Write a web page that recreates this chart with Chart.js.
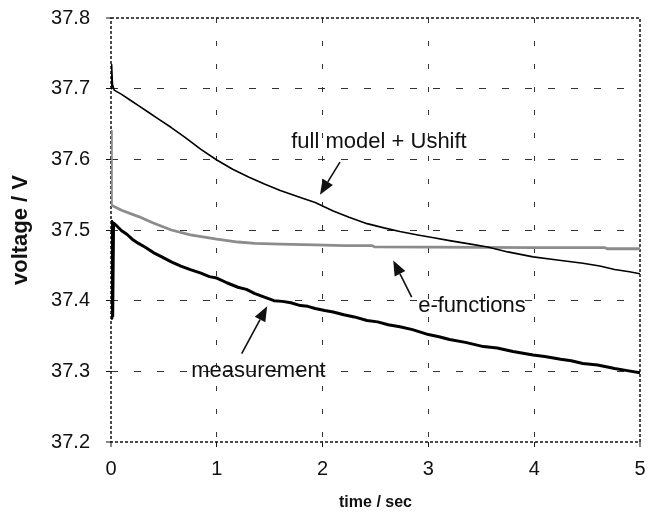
<!DOCTYPE html>
<html>
<head>
<meta charset="utf-8">
<script src="https://cdn.jsdelivr.net/npm/chart.js@4/dist/chart.umd.min.js"></script>
<style>
  html, body { margin: 0; padding: 0; background: #fff; }
  #wrap { width: 654px; height: 515px; }
</style>
</head>
<body>
<div id="wrap"><canvas id="chart" width="654" height="515"></canvas></div>
<script>
// Axis ticks
const timeTicks = [0, 1, 2, 3, 4, 5];
const voltTicks = [37.2, 37.3, 37.4, 37.5, 37.6, 37.7, 37.8];

// Measured terminal voltage (s, V)
const measT = [0, 0.008, 0.016, 0.024, 0.03, 0.06, 0.1, 0.15, 0.2, 0.26,
  0.32, 0.4, 0.48, 0.57, 0.66, 0.75, 0.85, 0.93, 1.0, 1.1,
  1.2, 1.28, 1.36, 1.45, 1.54, 1.62, 1.7, 1.79, 1.86, 1.93,
  2.02, 2.1, 2.2, 2.3, 2.42, 2.52, 2.62, 2.73, 2.85, 3.0,
  3.1, 3.2, 3.35, 3.52, 3.65, 3.8, 3.99, 4.1, 4.25, 4.35,
  4.46, 4.6, 4.76, 4.88, 5.0];
const measV = [37.375, 37.512, 37.378, 37.51, 37.509, 37.505, 37.499, 37.494, 37.487, 37.481,
  37.476, 37.468, 37.462, 37.455, 37.449, 37.444, 37.439, 37.434, 37.432, 37.425,
  37.419, 37.416, 37.410, 37.405, 37.400, 37.399, 37.397, 37.393, 37.392, 37.389,
  37.386, 37.384, 37.380, 37.377, 37.372, 37.370, 37.366, 37.363, 37.359, 37.352,
  37.349, 37.345, 37.341, 37.335, 37.333, 37.328, 37.323, 37.321, 37.317, 37.315,
  37.311, 37.309, 37.304, 37.301, 37.298];

// Full model with voltage shift (s, V)
const fullT = [0, 0.006, 0.014, 0.03, 0.1, 0.18, 0.26, 0.35, 0.45, 0.57,
  0.7, 0.85, 1.0, 1.15, 1.3, 1.45, 1.6, 1.79, 1.93, 2.1,
  2.25, 2.42, 2.58, 2.73, 2.9, 3.05, 3.2, 3.4, 3.56, 3.75,
  3.99, 4.2, 4.46, 4.62, 4.76, 4.9, 5.0];
const fullV = [37.700, 37.734, 37.706, 37.698, 37.692, 37.684, 37.676, 37.667, 37.657, 37.645,
  37.631, 37.614, 37.599, 37.586, 37.575, 37.565, 37.556, 37.546, 37.539, 37.527,
  37.518, 37.509, 37.503, 37.498, 37.493, 37.489, 37.485, 37.480, 37.476, 37.469,
  37.462, 37.458, 37.453, 37.449, 37.444, 37.441, 37.438];

// Sum of e-functions (s, V)
const expT = [0, 0.004, 0.1, 0.26, 0.4, 0.57, 0.75, 1.0, 1.2, 1.36,
  1.6, 1.93, 2.2, 2.47, 2.49, 3.0, 3.5, 4.0, 4.67, 4.69, 5.0];
const expV = [37.640, 37.535, 37.528, 37.519, 37.510, 37.500, 37.493, 37.487, 37.483, 37.481,
  37.480, 37.479, 37.478, 37.478, 37.476, 37.4758, 37.4755, 37.475, 37.475, 37.4735, 37.4735];

// Callout texts, anchored in data units: [label, t, V]
const callouts = [
  ['full model + Ushift', 2.533, 37.625],
  ['e-functions', 3.412, 37.392],
  ['measurement', 1.394, 37.300]
];
// Callout arrows: [tail t, tail V, tip t, tip V]
const arrows = [
  [2.164, 37.596, 1.975, 37.550],
  [2.842, 37.405, 2.668, 37.457],
  [1.235, 37.325, 1.476, 37.392]
];

const FONT = '"Liberation Sans", Arial, Helvetica, sans-serif';
const pts = (ts, vs) => ts.map((t, i) => ({ x: t, y: vs[i] }));

// Dotted frame around the plotting area
const framePlugin = {
  id: 'frame',
  beforeDatasetsDraw(chart) {
    const { ctx, chartArea: a } = chart;
    ctx.save();
    ctx.strokeStyle = '#111';
    ctx.lineWidth = 1.5;
    ctx.setLineDash([3, 2]);
    ctx.strokeRect(a.left, a.top, a.right - a.left, a.bottom - a.top);
    ctx.restore();
  }
};

// Text labels with pointing arrows
const calloutPlugin = {
  id: 'callouts',
  afterDatasetsDraw(chart) {
    const { ctx, scales: { x, y } } = chart;
    ctx.save();
    ctx.fillStyle = '#111';
    ctx.strokeStyle = '#111';
    ctx.font = '22px ' + FONT;
    ctx.textAlign = 'center';
    ctx.textBaseline = 'middle';
    callouts.forEach(([txt, t, v]) => {
      ctx.fillText(txt, x.getPixelForValue(t), y.getPixelForValue(v));
    });
    arrows.forEach(([t0, v0, t1, v1]) => {
      const x0 = x.getPixelForValue(t0), y0 = y.getPixelForValue(v0);
      const x1 = x.getPixelForValue(t1), y1 = y.getPixelForValue(v1);
      const ang = Math.atan2(y1 - y0, x1 - x0);
      const len = 15, half = 6;
      const bx = x1 - len * Math.cos(ang), by = y1 - len * Math.sin(ang);
      ctx.lineWidth = 1.6;
      ctx.beginPath();
      ctx.moveTo(x0, y0);
      ctx.lineTo(bx, by);
      ctx.stroke();
      ctx.beginPath();
      ctx.moveTo(x1, y1);
      ctx.lineTo(bx + half * Math.sin(ang), by - half * Math.cos(ang));
      ctx.lineTo(bx - half * Math.sin(ang), by + half * Math.cos(ang));
      ctx.closePath();
      ctx.fill();
    });
    ctx.restore();
  }
};

const edgeless = (count) => (c) => (c.index === 0 || c.index === count - 1) ? 0 : 1;

new Chart(document.getElementById('chart'), {
  type: 'line',
  data: {
    datasets: [
      { label: 'measurement', data: pts(measT, measV), borderColor: '#000', borderWidth: 3, order: 0 },
      { label: 'full model + Ushift', data: pts(fullT, fullV), borderColor: '#000', borderWidth: 1.6, order: 1 },
      { label: 'e-functions', data: pts(expT, expV), borderColor: '#8c8c8c', borderWidth: 2.8, order: 2 }
    ]
  },
  options: {
    responsive: false,
    animation: false,
    devicePixelRatio: 1,
    layout: { padding: { top: 18, right: 14, bottom: 0, left: 0 } },
    elements: { point: { radius: 0 }, line: { tension: 0, borderJoinStyle: 'round' } },
    plugins: { legend: { display: false }, tooltip: { enabled: false } },
    scales: {
      x: {
        type: 'linear',
        min: timeTicks[0],
        max: timeTicks[timeTicks.length - 1],
        afterBuildTicks: (s) => { s.ticks = timeTicks.map(v => ({ value: v })); },
        afterFit: (s) => { s.height = 73; s.paddingLeft = 0; s.paddingRight = 0; },
        ticks: { color: '#111', padding: 10, font: { family: FONT, size: 20 }, callback: v => String(v) },
        grid: { color: '#333', lineWidth: edgeless(timeTicks.length), drawTicks: true, tickLength: 5, tickWidth: 1, tickColor: '#111' },
        border: { display: false, dash: [5, 18] },
        title: { display: true, text: 'time / sec', color: '#111', padding: { top: 0, bottom: 3 }, font: { family: FONT, size: 16, weight: 'bold' } }
      },
      y: {
        type: 'linear',
        min: voltTicks[0],
        max: voltTicks[voltTicks.length - 1],
        afterBuildTicks: (s) => { s.ticks = voltTicks.map(v => ({ value: v })); },
        afterFit: (s) => { s.width = 111; s.paddingTop = 0; s.paddingBottom = 0; },
        ticks: { color: '#111', padding: 16, font: { family: FONT, size: 20 }, callback: v => Number(v).toFixed(1) },
        grid: { color: '#333', lineWidth: edgeless(voltTicks.length), drawTicks: true, tickLength: 5, tickWidth: 1, tickColor: '#111' },
        border: { display: false, dash: [7, 16] },
        title: { display: true, text: 'voltage / V', color: '#111', padding: { top: 8, bottom: 0 }, font: { family: FONT, size: 22, weight: 'bold' } }
      }
    }
  },
  plugins: [framePlugin, calloutPlugin]
});
</script>
</body>
</html>
